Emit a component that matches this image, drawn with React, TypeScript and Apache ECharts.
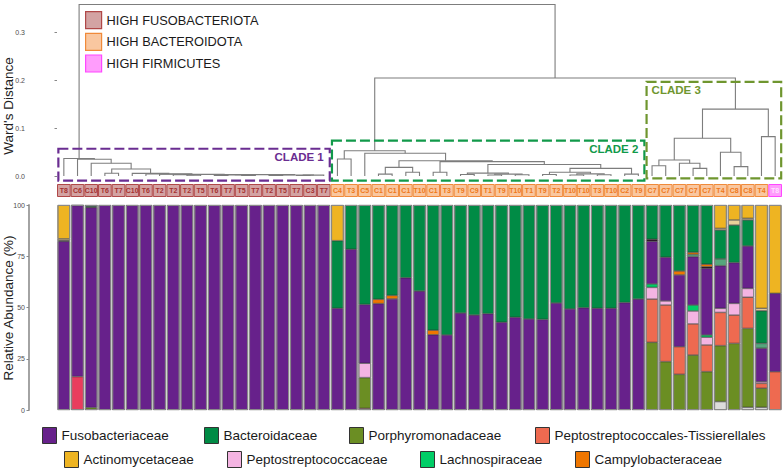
import React, { useEffect, useRef } from "react";
import * as echarts from "echarts";

// ---------- sample labels (leaf order) ----------
const SAMPLES = [
  "T8", "C6", "C10", "T6", "T7", "C10", "T6", "T2", "T2", "T2", "T5", "T6", "T7", "T5", "T7", "T2", "T5", "T7", "C3", "T7",
  "C4", "T3", "C5", "C1", "C1", "C1", "T10", "C1", "T3", "T9", "C9", "T1", "T9", "T10", "T1", "T9", "T2", "T10", "T10", "T3", "T10", "C2", "T9",
  "C7", "C7", "C7", "C7", "C7", "T4", "C8", "C8", "T4", "T8",
];
// F = high Fusobacteriota, B = high Bacteroidota, M = high Firmicutes
const SAMPLE_GROUP = [
  "F", "F", "F", "F", "F", "F", "F", "F", "F", "F", "F", "F", "F", "F", "F", "F", "F", "F", "F", "F",
  "B", "B", "B", "B", "B", "B", "B", "B", "B", "B", "B", "B", "B", "B", "B", "B", "B", "B", "B", "B", "B", "B", "B",
  "B", "B", "B", "B", "B", "B", "B", "B", "B", "M",
];
const GROUPS = [
  { code: "F", name: "HIGH FUSOBACTERIOTA", fill: "#d3a3a3", border: "#b04848", text: "#a53030" },
  { code: "B", name: "HIGH BACTEROIDOTA", fill: "#f9c7a0", border: "#f08a3a", text: "#ef7818" },
  { code: "M", name: "HIGH FIRMICUTES", fill: "#ff9dfc", border: "#ff47ff", text: "#ffe0ff" },
];

// ---------- relative abundance (%) per sample ----------
const FUSOBACTERIACEAE = [
  82.3, 83.5, 97.6, 100, 100, 100, 100, 100, 100, 100, 100, 100, 100, 100, 100, 100, 100, 100, 100, 100,
  49.6, 78.4, 28.7, 51.9, 54.2, 64.5, 58.0, 36.7, 36.6, 47.3, 46.3, 47.0, 42.8, 45.2, 44.4, 44.2, 52.2, 49.3, 49.9, 49.6, 49.6, 52.4, 54.1,
  20.8, 21.3, 35.0, 23.6, 32.5, 20.8, 19.9, 20.7, 16.3, 38.2,
];
const BACTEROIDACEAE = [
  0, 0, 0.8, 0, 0, 0, 0, 0, 0, 0, 0, 0, 0, 0, 0, 0, 0, 0, 0, 0,
  33.0, 21.6, 48.5, 46.0, 44.1, 35.5, 42.0, 61.1, 63.4, 52.7, 53.7, 53.0, 57.2, 54.8, 55.6, 55.8, 47.8, 50.7, 50.1, 50.4, 50.4, 47.6, 45.9,
  16.7, 25.5, 32.2, 23.1, 28.9, 14.1, 18.3, 12.7, 15.9, 0,
];
const PORPHYROMONADACEAE = [
  0, 0, 1.2, 0, 0, 0, 0, 0, 0, 0, 0, 0, 0, 0, 0, 0, 0, 0, 0, 0,
  0, 0, 15.0, 0, 0, 0, 0, 0, 0, 0, 0, 0, 0, 0, 0, 0, 0, 0, 0, 0, 0, 0, 0,
  33.0, 23.6, 17.4, 26.8, 18.7, 27.3, 32.5, 38.5, 9.3, 0,
];
const PEPTO_TISSIERELLALES = [
  0, 0, 0, 0, 0, 0, 0, 0, 0, 0, 0, 0, 0, 0, 0, 0, 0, 0, 0, 0,
  0, 0, 0, 0, 0, 0, 0, 0, 0, 0, 0, 0, 0, 0, 0, 0, 0, 0, 0, 0, 0, 0, 0,
  21.1, 27.6, 13.5, 15.2, 13.0, 16.2, 13.8, 15.2, 2.4, 18.7,
];
const ACTINOMYCETACEAE = [
  16.5, 0, 0, 0, 0, 0, 0, 0, 0, 0, 0, 0, 0, 0, 0, 0, 0, 0, 0, 0,
  17.4, 0, 0, 0, 0, 0, 0, 0, 0, 0, 0, 0, 0, 0, 0, 0, 0, 0, 0, 0, 0, 0, 0,
  0, 0, 0, 0, 0, 11.4, 7.3, 6.5, 50.4, 43.1,
];
const PEPTOSTREPTOCOCCACEAE = [
  0, 0, 0, 0, 0, 0, 0, 0, 0, 0, 0, 0, 0, 0, 0, 0, 0, 0, 0, 0,
  0, 0, 7.0, 0, 0, 0, 0, 0, 0, 0, 0, 0, 0, 0, 0, 0, 0, 0, 0, 0, 0, 0, 0,
  5.7, 2.0, 0, 6.3, 3.8, 2.0, 5.7, 4.3, 0.8, 0,
];
const LACHNOSPIRACEAE = [
  0, 0, 0, 0, 0, 0, 0, 0, 0, 0, 0, 0, 0, 0, 0, 0, 0, 0, 0, 0,
  0, 0, 0, 0, 0, 0, 0, 0, 0, 0, 0, 0, 0, 0, 0, 0, 0, 0, 0, 0, 0, 0, 0,
  1.7, 0, 0, 2.9, 1.1, 0, 0, 0, 0, 0,
];
const CAMPYLOBACTERACEAE = [
  0, 0, 0, 0, 0, 0, 0, 0, 0, 0, 0, 0, 0, 0, 0, 0, 0, 0, 0, 0,
  0, 0, 0, 2.1, 1.7, 0, 0, 2.2, 0, 0, 0, 0, 0, 0, 0, 0, 0, 0, 0, 0, 0, 0, 0,
  0, 0, 1.9, 1.0, 1.2, 0, 0, 0, 0, 0,
];
// minor families not in the legend
const MINOR_TEAL = [
  0, 0, 0, 0, 0, 0, 0, 0, 0, 0, 0, 0, 0, 0, 0, 0, 0, 0, 0, 0,
  0, 0, 0, 0, 0, 0, 0, 0, 0, 0, 0, 0, 0, 0, 0, 0, 0, 0, 0, 0, 0, 0, 0,
  0, 0, 0, 1.1, 0, 3.3, 0, 0, 2.4, 0,
];
const MINOR_BEIGE = [
  0.8, 0, 0, 0, 0, 0, 0, 0, 0, 0, 0, 0, 0, 0, 0, 0, 0, 0, 0, 0,
  0, 0, 0, 0, 0, 0, 0, 0, 0, 0, 0, 0, 0, 0, 0, 0, 0, 0, 0, 0, 0, 0, 0,
  0, 0, 0, 0, 0, 0.8, 2.5, 0.8, 1.2, 0,
];
const MINOR_CRIMSON = [
  0, 16.3, 0, 0, 0, 0, 0, 0, 0, 0, 0, 0, 0, 0, 0, 0, 0, 0, 0, 0,
  0, 0, 0.8, 0, 0, 0, 0, 0, 0, 0, 0, 0, 0, 0, 0, 0, 0, 0, 0, 0, 0, 0, 0,
  0, 0, 0, 0, 0, 0, 0, 0, 0, 0,
];
const MINOR_GREY = [
  0, 0, 0, 0, 0, 0, 0, 0, 0, 0, 0, 0, 0, 0, 0, 0, 0, 0, 0, 0,
  0, 0, 0, 0, 0, 0, 0, 0, 0, 0, 0, 0, 0, 0, 0, 0, 0, 0, 0, 0, 0, 0, 0,
  0, 0, 0, 0, 0, 4.1, 0, 1.3, 1.3, 0,
];
const MINOR_DARK = [
  0.4, 0.2, 0.4, 0, 0, 0, 0, 0, 0, 0, 0, 0, 0, 0, 0, 0, 0, 0, 0, 0,
  0, 0, 0, 0, 0, 0, 0, 0, 0, 0, 0, 0, 0, 0, 0, 0, 0, 0, 0, 0, 0, 0, 0,
  1.0, 0, 0, 0, 0.8, 0, 0, 0, 0, 0,
];

// stacking order, bottom -> top
const STACK = [
  { name: "Other", data: MINOR_GREY, color: "#dcdcdc" },
  { name: "Other 2", data: MINOR_CRIMSON, color: "#e93d5d" },
  { name: "Porphyromonadaceae", data: PORPHYROMONADACEAE, color: "#6b8e23" },
  { name: "Peptostreptococcales-Tissierellales", data: PEPTO_TISSIERELLALES, color: "#ee6a50" },
  { name: "Peptostreptococcaceae", data: PEPTOSTREPTOCOCCACEAE, color: "#f4b4e2" },
  { name: "Lachnospiraceae", data: LACHNOSPIRACEAE, color: "#00cd66" },
  { name: "Fusobacteriaceae", data: FUSOBACTERIACEAE, color: "#67218b" },
  { name: "Other 3", data: MINOR_DARK, color: "#2a1626" },
  { name: "Other 4", data: MINOR_TEAL, color: "#55a67c" },
  { name: "Campylobacteraceae", data: CAMPYLOBACTERACEAE, color: "#ee7600" },
  { name: "Bacteroidaceae", data: BACTEROIDACEAE, color: "#008b45" },
  { name: "Other 5", data: MINOR_BEIGE, color: "#ead09a" },
  { name: "Actinomycetaceae", data: ACTINOMYCETACEAE, color: "#eeb422" },
];
const LEGEND_ROW1 = ["Fusobacteriaceae", "Bacteroidaceae", "Porphyromonadaceae", "Peptostreptococcales-Tissierellales"];
const LEGEND_ROW2 = ["Actinomycetaceae", "Peptostreptococcaceae", "Lachnospiraceae", "Campylobacteraceae"];

// ---------- Ward's clustering (merge list: id, left, right, height) ----------
const MERGES: [string, number | string, number | string, number][] = [
  ["a1", 9, 10, 0.0015], ["a2", 8, "a1", 0.0025], ["a3", 11, 12, 0.001], ["a4", 13, 14, 0.0012],
  ["a5", "a3", "a4", 0.002], ["a6", 15, 16, 0.001], ["a7", 17, 18, 0.0012], ["a8", "a7", 19, 0.0018],
  ["a9", "a6", "a8", 0.0022], ["a10", "a5", "a9", 0.0028], ["a11", "a2", "a10", 0.0032],
  ["a12", 7, "a11", 0.0037], ["a13", 6, "a12", 0.0045], ["a14", 5, "a13", 0.0055],
  ["m34", 3, 4, 0.0057], ["a15", "m34", "a14", 0.0147], ["a16", 2, "a15", 0.0266],
  ["a17", 1, "a16", 0.035], ["c1", 0, "a17", 0.0365],
  ["b1", 20, 21, 0.0356], ["b2", 23, 24, 0.004], ["b3", 25, 26, 0.0077], ["b4", "b2", "b3", 0.018],
  ["b5", 27, 28, 0.0077], ["b6", 29, 30, 0.003], ["b7", 31, 32, 0.002], ["b8", 33, 34, 0.0025],
  ["b9", "b7", "b8", 0.004], ["b10", "b6", "b9", 0.006], ["b11", 35, 36, 0.003], ["b12", 37, 38, 0.002],
  ["b13", 39, 40, 0.0025], ["b14", "b12", "b13", 0.0045], ["b15", "b11", "b14", 0.008],
  ["b16", 41, 42, 0.004], ["b17", "b15", "b16", 0.016], ["b18", "b10", "b17", 0.024],
  ["b19", "b5", "b18", 0.03], ["b20", "b4", "b19", 0.032], ["b21", 22, "b20", 0.0475],
  ["c2", "b1", "b21", 0.053],
  ["d1", 43, 44, 0.0216], ["d2", 46, 47, 0.016], ["d3", 45, "d2", 0.0266], ["d4", "d1", "d3", 0.0335],
  ["d5", 49, 50, 0.0196], ["d6", 48, "d5", 0.0496], ["d7", "d4", "d6", 0.079], ["d8", 51, 52, 0.0824],
  ["c3", "d7", "d8", 0.14], ["c23", "c2", "c3", 0.205], ["root", "c1", "c23", 0.359],
];
const CLADES = [
  { name: "CLADE 1", first: 0, last: 19, top: 0.057, bottom: -0.0098, color: "#6a2d91" },
  { name: "CLADE 2", first: 20, last: 42, top: 0.074, bottom: -0.0098, color: "#11994a" },
  { name: "CLADE 3", first: 43, last: 52, top: 0.197, bottom: -0.005, color: "#6f962f" },
];
const DIST_TICKS = [0, 0.1, 0.2, 0.3];

function dendroSegments() {
  const pos: Record<string, { x: number; h: number }> = {};
  const get = (k: number | string) => (typeof k === "number" ? { x: k + 0.5, h: 0 } : pos[k]);
  const segs: number[][] = [];
  for (const [id, l, r, h] of MERGES) {
    const L = get(l);
    const R = get(r);
    segs.push([L.x, L.h, R.x, R.h, h]);
    pos[id] = { x: (L.x + R.x) / 2, h };
  }
  return segs;
}

export default function App() {
  const ref = useRef<HTMLDivElement>(null);
  useEffect(() => {
    if (!ref.current) return;
    const chart = echarts.init(ref.current, null, { renderer: "svg" });
    const idx = SAMPLES.map((_, i) => String(i));
    const FONT = "Liberation Sans";

    const barSeries: any[] = STACK.map((s) => ({
      name: s.name,
      type: "bar",
      stack: "abund",
      xAxisIndex: 2,
      yAxisIndex: 2,
      barCategoryGap: "8%",
      itemStyle: { color: s.color, borderColor: "#2b2b2b", borderWidth: 0.5 },
      data: s.data.map((v) => (v === 0 ? "-" : v)),
    }));
    barSeries.push({
      name: "outline",
      type: "bar",
      xAxisIndex: 2,
      yAxisIndex: 2,
      barGap: "-100%",
      barCategoryGap: "8%",
      z: 5,
      silent: true,
      itemStyle: { color: "rgba(0,0,0,0)", borderColor: "#8a8a8a", borderWidth: 1 },
      data: SAMPLES.map((_, i) => STACK.reduce((acc, s) => acc + s.data[i], 0)),
    });

    const labelSeries = GROUPS.map((g) => ({
      name: g.name,
      type: "bar",
      stack: "lab",
      xAxisIndex: 1,
      yAxisIndex: 1,
      barCategoryGap: "0%",
      itemStyle: { color: g.fill, borderColor: g.border, borderWidth: 1 },
      label: {
        show: true,
        position: "inside",
        formatter: (p: any) => SAMPLES[p.dataIndex],
        color: g.text,
        fontSize: 7,
        fontWeight: "bold",
        fontFamily: FONT,
      },
      data: SAMPLE_GROUP.map((c) => (c === g.code ? 1 : "-")),
    }));

    const dendro = {
      name: "dendrogram",
      type: "custom",
      xAxisIndex: 0,
      yAxisIndex: 0,
      clip: false,
      silent: true,
      encode: { x: [0, 2], y: [1, 3, 4] },
      data: dendroSegments(),
      renderItem: (params: any, api: any) => {
        const x1 = api.value(0), h1 = api.value(1), x2 = api.value(2), h2 = api.value(3), h = api.value(4);
        return {
          type: "polyline",
          shape: { points: [api.coord([x1, h1]), api.coord([x1, h]), api.coord([x2, h]), api.coord([x2, h2])] },
          style: { stroke: "#7d7d7d", lineWidth: 1.1, fill: null },
        };
      },
    };

    const clades = {
      name: "clades",
      type: "custom",
      xAxisIndex: 0,
      yAxisIndex: 0,
      clip: false,
      silent: true,
      encode: { x: [0, 1], y: [2, 3] },
      data: CLADES.map((c) => [c.first, c.last, c.top, c.bottom]),
      renderItem: (params: any, api: any) => {
        const c = CLADES[params.dataIndex];
        const p0 = api.coord([api.value(0) + 0.1, api.value(2)]);
        const p1 = api.coord([api.value(1) + 0.94, api.value(3)]);
        const left = params.dataIndex === 2;
        return {
          type: "group",
          children: [
            {
              type: "rect",
              shape: { x: p0[0], y: p0[1], width: p1[0] - p0[0], height: p1[1] - p0[1] },
              style: { fill: null, stroke: c.color, lineWidth: 2.2, lineDash: [10, 4] },
            },
            {
              type: "text",
              x: left ? p0[0] + 5 : p1[0] - 6,
              y: p0[1] + 8.5,
              style: {
                text: c.name,
                fill: c.color,
                font: `bold 11.5px ${FONT}`,
                align: left ? "left" : "right",
                verticalAlign: "middle",
              },
            },
          ],
        };
      },
    };

    const famLegend = (name: string, left: number, top: number) => ({
      data: [name],
      left,
      top,
      padding: 0,
      icon: "rect",
      itemWidth: 14,
      itemHeight: 16,
      selectedMode: false,
      itemStyle: { borderColor: "#333", borderWidth: 1 },
      textStyle: { fontSize: 13.5, fontFamily: FONT, color: "#1a1a1a" },
    });
    const row1Left = [42, 204, 349, 535];
    const row2Left = [64, 227, 420, 575];

    const option: any = {
      animation: false,
      textStyle: { fontFamily: FONT },
      grid: [
        { left: 57, top: 4, width: 725, height: 172 },
        { left: 57, top: 184, width: 725, height: 13 },
        { left: 57, top: 205, width: 725, height: 205 },
      ],
      xAxis: [
        { gridIndex: 0, type: "value", min: 0, max: SAMPLES.length, show: false },
        { gridIndex: 1, type: "category", data: idx, show: false },
        { gridIndex: 2, type: "category", data: idx, show: false },
      ],
      yAxis: [
        {
          gridIndex: 0,
          type: "value",
          min: 0,
          max: 0.36,
          offset: 28,
          axisLine: { show: false },
          axisTick: { show: true, length: 2.5, customValues: DIST_TICKS, lineStyle: { color: "#888" } },
          axisLabel: {
            customValues: DIST_TICKS,
            fontSize: 7,
            color: "#4d4d4d",
            margin: 4,
            formatter: (v: number) => v.toFixed(1),
          },
          splitLine: { show: false },
        },
        { gridIndex: 1, type: "value", min: 0, max: 1, show: false },
        {
          gridIndex: 2,
          type: "value",
          min: 0,
          max: 100,
          interval: 25,
          offset: 28,
          axisLine: { show: true, lineStyle: { color: "#9a9a9a", width: 1.8 } },
          axisTick: { show: true, length: 2.5, lineStyle: { color: "#888" } },
          axisLabel: { fontSize: 7, color: "#4d4d4d", margin: 4 },
          splitLine: { show: false },
        },
      ],
      legend: [
        {
          data: GROUPS.map((g) => g.name),
          orient: "vertical",
          left: 85,
          top: 11,
          padding: 0,
          icon: "rect",
          itemWidth: 16,
          itemHeight: 17,
          itemGap: 3.5,
          selectedMode: false,
          itemStyle: { borderWidth: 1.2 },
          textStyle: { fontSize: 12.8, fontFamily: FONT, color: "#1a1a1a" },
        },
        ...LEGEND_ROW1.map((n, i) => famLegend(n, row1Left[i], 427)),
        ...LEGEND_ROW2.map((n, i) => famLegend(n, row2Left[i], 451)),
      ],
      graphic: [
        {
          type: "text",
          x: 8,
          y: 106,
          rotation: Math.PI / 2,
          style: { text: "Ward's Distance", font: `13.5px ${FONT}`, fill: "#222", align: "center", verticalAlign: "middle" },
        },
        {
          type: "text",
          x: 8,
          y: 308,
          rotation: Math.PI / 2,
          style: { text: "Relative Abundance (%)", font: `13.5px ${FONT}`, fill: "#222", align: "center", verticalAlign: "middle" },
        },
      ],
      series: [dendro, clades, ...labelSeries, ...barSeries],
    };
    chart.setOption(option);
    return () => chart.dispose();
  }, []);

  return (
    <div
      ref={ref}
      style={{ position: "fixed", left: 0, top: 0, width: 784, height: 468, background: "#fff" }}
    />
  );
}
